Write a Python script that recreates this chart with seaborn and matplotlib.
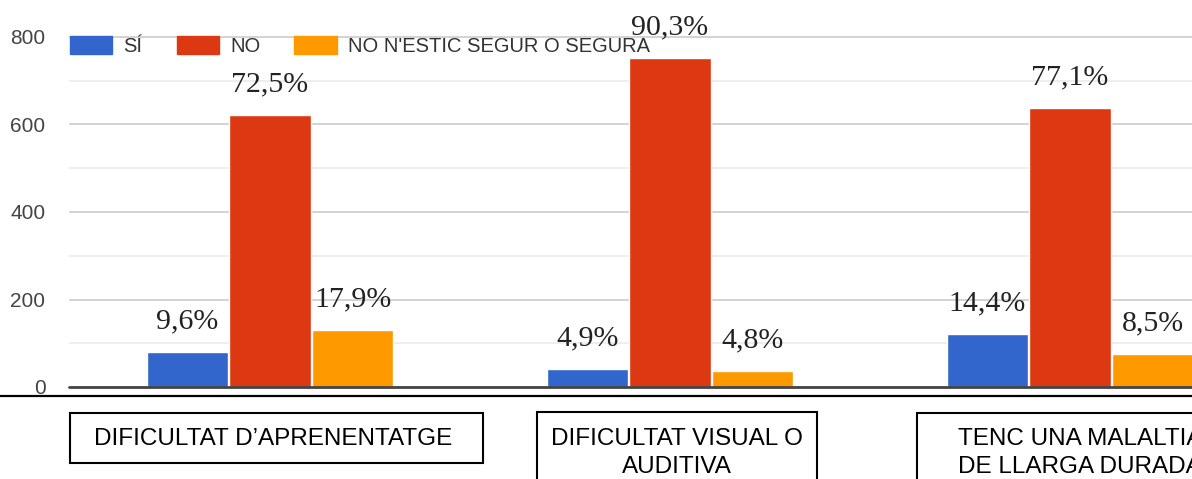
import matplotlib
matplotlib.use('Agg')
import matplotlib.pyplot as plt
from matplotlib.patches import Rectangle
from matplotlib.lines import Line2D
from matplotlib.ticker import MultipleLocator
import seaborn as sns
import pandas as pd

categories = ['DIFICULTAT D’APRENENTATGE', 'DIFICULTAT VISUAL O\nAUDITIVA', 'TENC UNA MALALTIA\nDE LLARGA DURADA']
series = ['SÍ', 'NO', "NO N'ESTIC SEGUR O SEGURA"]
si_values = [80, 41, 121]
no_values = [622, 752, 638]
nosegur_values = [130, 37, 75]
si_labels = ['9,6%', '4,9%', '14,4%']
no_labels = ['72,5%', '90,3%', '77,1%']
nosegur_labels = ['17,9%', '4,8%', '8,5%']
colors = ['#3366cc', '#dc3912', '#ff9900']

df = pd.DataFrame({
    'cat': categories * 3,
    'resp': [series[0]] * 3 + [series[1]] * 3 + [series[2]] * 3,
    'n': si_values + no_values + nosegur_values,
})
labels = [si_labels, no_labels, nosegur_labels]

sns.set_theme(style='white')
plt.rcParams['font.family'] = ['Liberation Sans', 'DejaVu Sans']

W, H = 1192, 479
fig = plt.figure(figsize=(W / 100, H / 100), dpi=100)


def fx(x):
    return x / W


def fy(y):
    return 1 - y / H


# axes: left edge at px 69, zero at px 387, runs past the right edge of the picture
ax_w = 1.1
ax = fig.add_axes([fx(69), fy(387), ax_w, 387 / H])

sns.barplot(data=df, x='cat', y='n', hue='resp', hue_order=series, order=categories,
            palette=colors, width=0.62, gap=0.02, saturation=1, ax=ax, legend=False)

px_per_unit = 400
x0 = -(270 - 69) / px_per_unit
ax.set_xlim(x0, x0 + ax_w * W / px_per_unit)
ax.set_ylim(0, 387 / 0.4375)

ax.yaxis.set_major_locator(MultipleLocator(200))
ax.yaxis.set_minor_locator(MultipleLocator(100))
ax.grid(which='major', axis='y', color='#cccccc', lw=1.2, zorder=0)
ax.grid(which='minor', axis='y', color='#ebebeb', lw=1.2, zorder=0)
ax.set_axisbelow(True)
ax.axhline(0, color='#444444', lw=2, clip_on=False, zorder=5)
for s in ax.spines.values():
    s.set_visible(False)
ax.tick_params(axis='y', which='both', length=0, pad=17, labelsize=15, labelcolor='#444444')
ax.set_xticks([])
ax.set_xlabel('')
ax.set_ylabel('')

for cont, labs in zip(ax.containers, labels):
    for bar, lab in zip(cont, labs):
        ax.annotate(lab, (bar.get_x() + bar.get_width() / 2, bar.get_height()),
                    xytext=(0, 22), textcoords='offset points', ha='center', va='center',
                    fontsize=21.5, family=['Liberation Serif', 'DejaVu Serif'], color='#222222')

handles = [Rectangle((0, 0), 1, 1, color=c) for c in colors]
fig.legend(handles, series, loc='upper left', bbox_to_anchor=(fx(70), fy(36)),
           ncol=3, frameon=False, fontsize=14.5, handlelength=2.1, handleheight=1.0,
           handletextpad=0.55, columnspacing=1.7, borderpad=0, borderaxespad=0,
           labelcolor='#333333')

# black rule under the chart
fig.add_artist(Line2D([0, 1], [fy(396), fy(396)], transform=fig.transFigure, color='black', lw=1.6))

# category boxes under the groups (the third one is cut by the picture edge, as in the source)
boxes = [(70, 413, 483, 463), (537, 412, 817, 520), (917, 413, 1245, 520)]
centers = [(273, 439), (677, 453), (1080, 453)]
for (l, t, r, b), (cx, cy), cat in zip(boxes, centers, categories):
    fig.add_artist(Rectangle((fx(l), fy(b)), fx(r) - fx(l), fy(t) - fy(b), transform=fig.transFigure,
                             fill=False, ec='black', lw=1.5))
    fig.text(fx(cx), fy(cy), cat, ha='center', va='center', fontsize=17.5, color='black',
             linespacing=1.4)

fig.savefig('out.png', dpi=100)
